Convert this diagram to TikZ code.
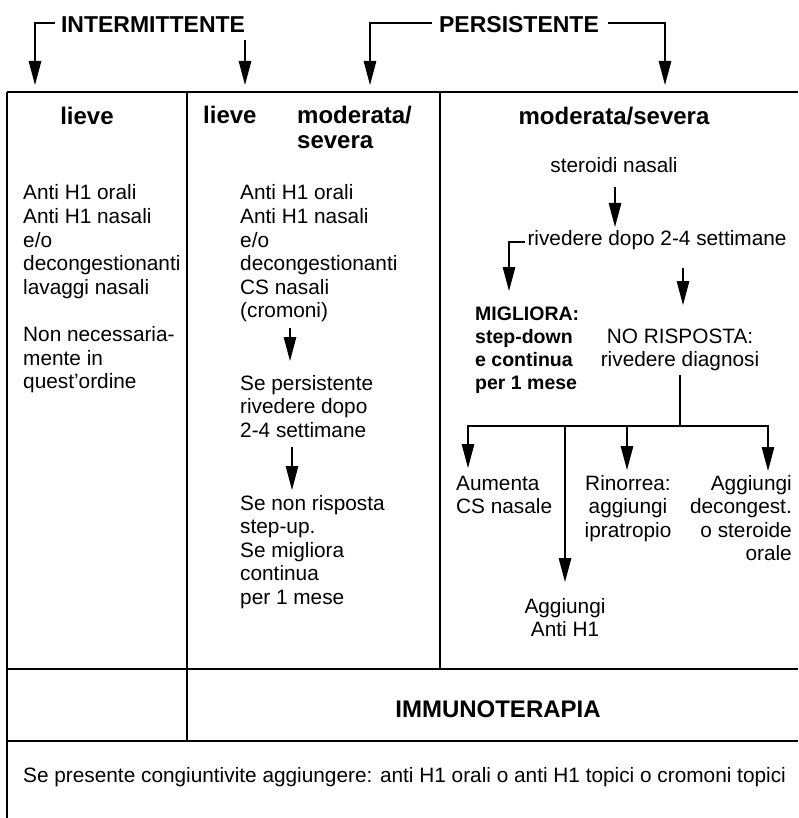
\documentclass[tikz,border=0pt]{standalone}
\usepackage{fontspec}
\setmainfont{Liberation Sans}
\usetikzlibrary{arrows.meta}

\begin{document}
\begin{tikzpicture}[x=1pt,y=-1pt,
  rule/.style={line width=1.3pt, draw=black},
  arr/.style={line width=1.3pt, draw=black, -{Triangle[length=24pt,width=12.5pt]}},
  txt/.style={inner sep=0pt, font=\fontsize{20.8}{23.6}\selectfont},
  top/.style={inner sep=0pt, font=\fontsize{23}{24.5}\selectfont\bfseries},
  hdr/.style={inner sep=0pt, font=\fontsize{24}{25}\selectfont\bfseries},
  bold/.style={inner sep=0pt, font=\fontsize{19.5}{23.2}\selectfont\bfseries},
]
\useasboundingbox (0,0) rectangle (798,818);

% table rules
\draw[rule] (7,92) -- (798,92);
\draw[rule] (7,92) -- (7,818);
\draw[rule] (187,92) -- (187,741);
\draw[rule] (440,92) -- (440,669);
\draw[rule] (7,669) -- (798,669);
\draw[rule] (7,741) -- (798,741);

% top labels with their brackets
\node[top, anchor=base] (int) at (153,33) {INTERMITTENTE};
\node[top, anchor=base] (pers) at (519,33) {PERSISTENTE};
\coordinate (intL) at (55,23);
\coordinate (tipA) at (35,85);
\coordinate (intR) at (245,40);
\coordinate (tipB) at (245,85);
\coordinate (persL) at (432,23);
\coordinate (tipC) at (370,85);
\coordinate (persR) at (608,23);
\coordinate (tipD) at (665,85);
\draw[arr] (intL) -| (tipA);
\draw[arr] (intR) -- (tipB);
\draw[arr] (persL) -| (tipC);
\draw[arr] (persR) -| (tipD);

% column 1: lieve
\node[hdr, anchor=base] (c1h) at (87,125) {lieve};
\node[txt, anchor=base west] (c1a) at (23,200) {\parbox[t]{160pt}{\raggedright
  Anti H1 orali\\Anti H1 nasali\\e/o\\decongestionanti\\lavaggi nasali}};
\node[txt, anchor=base west] (c1b) at (23,341.6) {\parbox[t]{160pt}{\raggedright
  Non necessaria-\\mente in\\quest'ordine}};

% column 2: lieve / moderata-severa
\node[hdr, anchor=base west] (c2l) at (203,124) {lieve};
\node[hdr, anchor=base west] (c2m) at (297,124) {\parbox[t]{140pt}{\raggedright moderata/\\severa}};
\node[txt, anchor=base west] (c2a) at (240,200) {\parbox[t]{190pt}{\raggedright
  Anti H1 orali\\Anti H1 nasali\\e/o\\decongestionanti\\CS nasali\\(cromoni)}};
\node[txt, anchor=base west] (c2b) at (240,390) {\parbox[t]{190pt}{\raggedright
  Se persistente\\rivedere dopo\\2-4 settimane}};
\node[txt, anchor=base west] (c2c) at (240,510) {\parbox[t]{190pt}{\raggedright
  Se non risposta\\step-up.\\Se migliora\\continua\\per 1 mese}};
\coordinate (c2s1) at (290,328);
\coordinate (c2e1) at (290,361);
\coordinate (c2s2) at (292,447);
\coordinate (c2e2) at (292,490);
\draw[arr] (c2s1) -- (c2e1);
\draw[arr] (c2s2) -- (c2e2);

% column 3: moderata/severa
\node[hdr, anchor=base] (c3h) at (614,125) {moderata/severa};
\node[txt, anchor=base] (ster) at (614,173) {steroidi nasali};
\node[txt, anchor=base] (riv) at (657,245) {rivedere dopo 2-4 settimane};
\coordinate (sterS) at (615,187);
\coordinate (rivN) at (615,227);
\draw[arr] (sterS) -- (rivN);
\coordinate (rivW) at (525,242);
\coordinate (migN) at (509,291);
\draw[arr] (rivW) -| (migN);
\coordinate (rivS) at (683,268);
\coordinate (nrN) at (683,305);
\draw[arr] (rivS) -- (nrN);
\node[bold, anchor=base west] (mig) at (475,320) {\parbox[t]{120pt}{\raggedright
  MIGLIORA:\\step-down\\e continua\\per 1 mese}};
\node[txt, anchor=base] (nr) at (680,343) {\parbox[t]{200pt}{\centering
  NO RISPOSTA:\\rivedere diagnosi}};

% branches below "rivedere diagnosi"
\coordinate (nrS) at (680,375);
\coordinate (hub) at (680,426);
\coordinate (bA) at (468,468);
\coordinate (bB) at (565,582);
\coordinate (bC) at (627,470);
\coordinate (bD) at (768,471);
\draw[rule] (nrS) -- (hub);
\draw[arr] (hub) -| (bA);
\draw[arr] (hub) -| (bB);
\draw[arr] (hub) -| (bC);
\draw[arr] (hub) -| (bD);
\node[txt, anchor=base west] (aum) at (456,490) {\parbox[t]{120pt}{\raggedright
  Aumenta\\CS nasale}};
\node[txt, anchor=base] (rin) at (628,490) {\parbox[t]{120pt}{\centering
  Rinorrea:\\aggiungi\\ipratropio}};
\node[txt, anchor=base east] (dec) at (792,490) {\parbox[t]{120pt}{\raggedleft
  Aggiungi\\decongest.\\o steroide\\orale}};
\node[txt, anchor=base] (ah1) at (565,613) {\parbox[t]{120pt}{\centering
  Aggiungi\\Anti H1}};

% bottom rows
\node[hdr, anchor=base] (imm) at (498,717) {IMMUNOTERAPIA};
\node[txt, anchor=base west] (conj) at (23,782) {Se presente congiuntivite aggiungere: anti H1 orali o anti H1 topici o cromoni topici};
\end{tikzpicture}
\end{document}
